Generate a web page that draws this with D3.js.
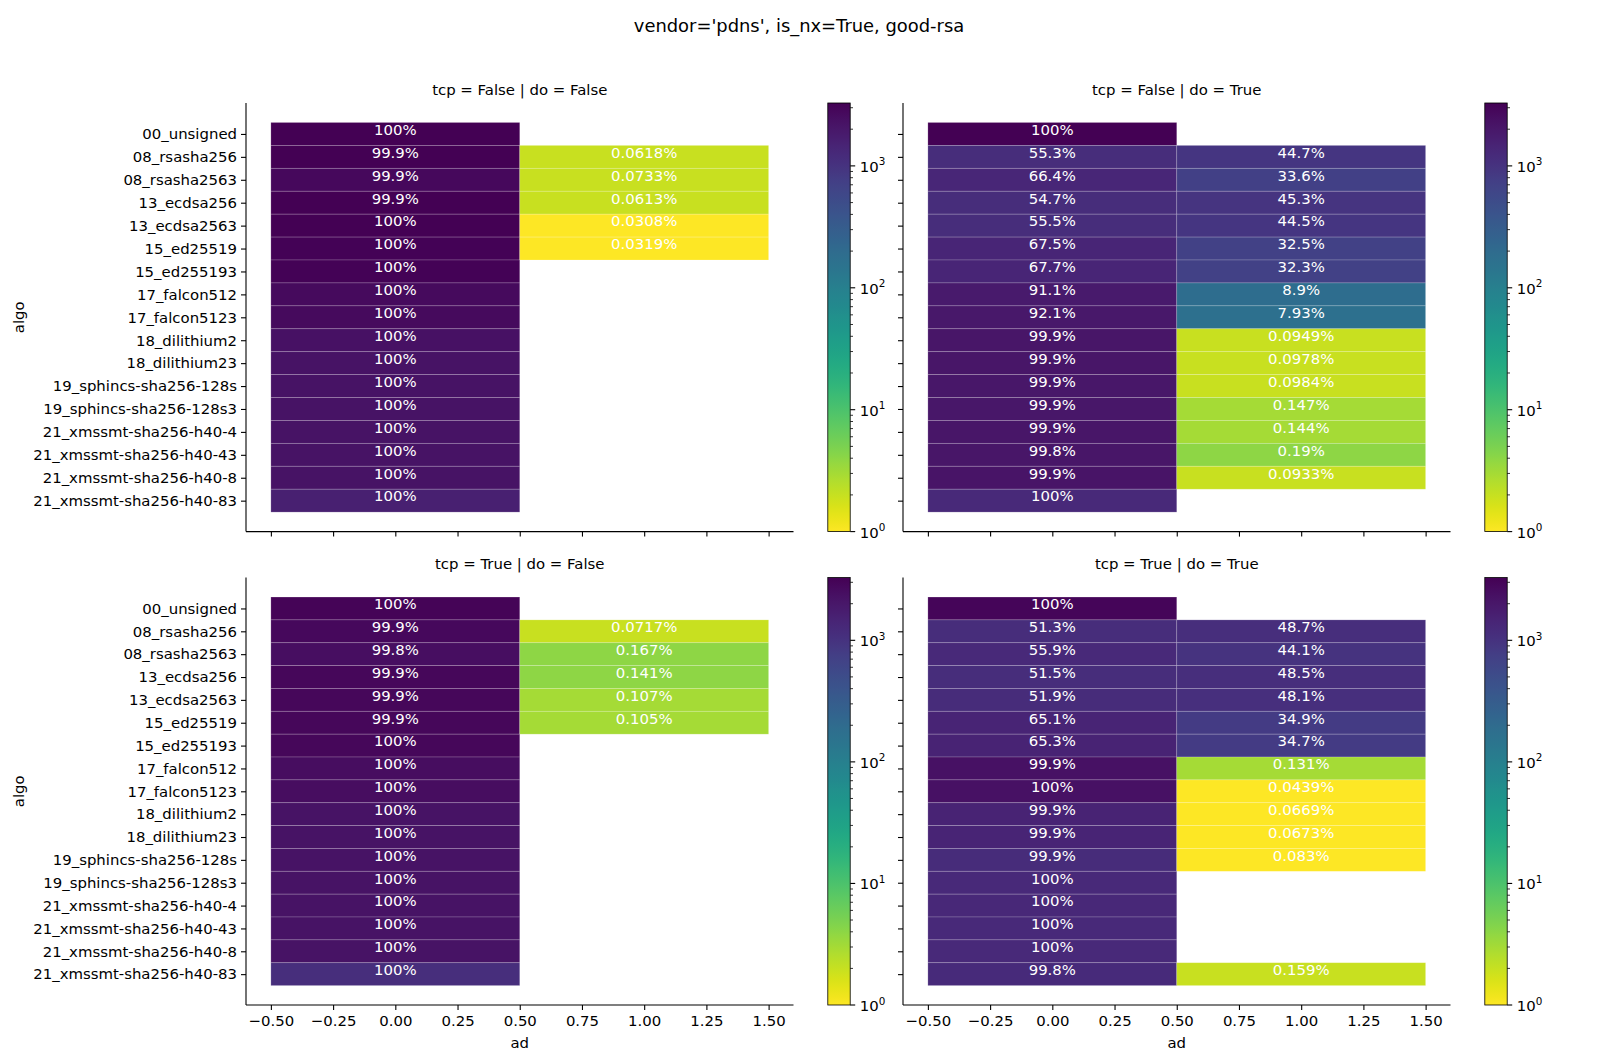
<!DOCTYPE html>
<html>
<head>
<meta charset="utf-8">
<script src="https://cdn.jsdelivr.net/npm/d3@7"></script>
<style>
  html, body { margin: 0; padding: 0; background: #fff; }
  svg { display: block; font-family: "DejaVu Sans", sans-serif; }
</style>
</head>
<body>
<svg id="chart" width="1600" height="1062"></svg>
<script>
// ---------------- DATA ----------------
const suptitle = "vendor='pdns', is_nx=True, good-rsa";
const algos = [
  "00_unsigned", "08_rsasha256", "08_rsasha2563", "13_ecdsa256", "13_ecdsa2563",
  "15_ed25519", "15_ed255193", "17_falcon512", "17_falcon5123", "18_dilithium2",
  "18_dilithium23", "19_sphincs-sha256-128s", "19_sphincs-sha256-128s3",
  "21_xmssmt-sha256-h40-4", "21_xmssmt-sha256-h40-43", "21_xmssmt-sha256-h40-8",
  "21_xmssmt-sha256-h40-83"
];
const adValues = [0, 1];
const panelTitles = [
  "tcp = False | do = False", "tcp = False | do = True",
  "tcp = True | do = False", "tcp = True | do = True"
];
// counts (ad = 0 / ad = 1) per algo, estimated from the colour scale
const tcpF_doF_ad0 = [3280, 3234, 2726, 3261, 3246, 3134, 3150, 2700, 2690, 2250, 2230, 2200, 2210, 2240, 2220, 2200, 1600];
const tcpF_doF_ad1 = [null, 2, 2, 2, 1, 1, null, null, null, null, null, null, null, null, null, null, null];
const tcpF_doT_ad0 = [3200, 1167, 1388, 1160, 1165, 1404, 1415, 1913, 1951, 2105, 2043, 2031, 2038, 2080, 2101, 2142, 1300];
const tcpF_doT_ad1 = [null, 943, 702, 960, 935, 676, 675, 187, 168, 2, 2, 2, 3, 3, 4, 2, null];
const tcpT_doF_ad0 = [3000, 2787, 2391, 2833, 2801, 2854, 2850, 2500, 2480, 2200, 2190, 2180, 2200, 2210, 2190, 2200, 1150];
const tcpT_doF_ad1 = [null, 2, 4, 4, 3, 3, null, null, null, null, null, null, null, null, null, null, null];
const tcpT_doT_ad0 = [2900, 1180, 1280, 1190, 1194, 1484, 1495, 2287, 2277, 1494, 1485, 1204, 1300, 1320, 1310, 1290, 1256];
const tcpT_doT_ad1 = [null, 1120, 1010, 1120, 1106, 796, 795, 3, 1, 1, 1, 1, null, null, null, null, 2];
const xTicks = [-0.5, -0.25, 0, 0.25, 0.5, 0.75, 1, 1.25, 1.5];
const cbarMajorTicks = [1, 10, 100, 1000];
const colorMax = 3280;

// ---------------- LAYOUT ----------------
const svg = d3.select("#chart");
const FS = 14.9;
const colX = [[246, 793.5], [903, 1450.5]];
const rowY = [[103, 531.6], [577.6, 1005]];
const cbarX = [[827.8, 850.2], [1484.8, 1507.2]];

const panels = [
  { title: panelTitles[0], a0: tcpF_doF_ad0, a1: tcpF_doF_ad1, r: 0, c: 0 },
  { title: panelTitles[1], a0: tcpF_doT_ad0, a1: tcpF_doT_ad1, r: 0, c: 1 },
  { title: panelTitles[2], a0: tcpT_doF_ad0, a1: tcpT_doF_ad1, r: 1, c: 0 },
  { title: panelTitles[3], a0: tcpT_doT_ad0, a1: tcpT_doT_ad1, r: 1, c: 1 }
];

const color = d3.scaleSequentialLog(t => d3.interpolateViridis(1 - t)).domain([1, colorMax]);
const fmt = d3.format(".3~g");

svg.append("text")
  .attr("x", 799).attr("y", 31.5)
  .attr("text-anchor", "middle")
  .attr("font-size", 17.9)
  .text(suptitle);

// gradient for colorbars
const defs = svg.append("defs");
const grad = defs.append("linearGradient").attr("id", "cbgrad")
  .attr("x1", 0).attr("y1", 1).attr("x2", 0).attr("y2", 0);
d3.range(0, 1.0001, 0.02).forEach(t => {
  grad.append("stop").attr("offset", t).attr("stop-color", d3.interpolateViridis(1 - t));
});

panels.forEach(p => {
  const [x0, x1] = colX[p.c];
  const [y0, y1] = rowY[p.r];
  const x = d3.scaleLinear().domain([-0.6, 1.6]).range([x0, x1]);
  const y = d3.scaleLinear().domain([-1.35, 17.35]).range([y0, y1]);
  const g = svg.append("g");

  // cells
  const cells = [];
  algos.forEach((a, i) => {
    const tot = (p.a0[i] || 0) + (p.a1[i] || 0);
    [p.a0[i], p.a1[i]].forEach((v, j) => {
      if (v != null) cells.push({ i, ad: adValues[j], v, pct: v / tot * 100 });
    });
  });
  g.selectAll("rect.cell").data(cells).join("rect")
    .attr("class", "cell")
    .attr("x", d => x(d.ad - 0.5))
    .attr("width", d => x(d.ad + 0.5) - x(d.ad - 0.5))
    .attr("y", d => y(d.i - 0.5))
    .attr("height", d => y(d.i + 0.5) - y(d.i - 0.5))
    .attr("fill", d => color(d.v))
    .attr("stroke", "rgba(255,255,255,0.22)")
    .attr("stroke-width", 0.8);
  g.selectAll("text.pct").data(cells).join("text")
    .attr("class", "pct")
    .attr("x", d => x(d.ad))
    .attr("y", d => y(d.i) + 0.8)
    .attr("text-anchor", "middle")
    .attr("font-size", FS)
    .attr("fill", "#ffffff")
    .text(d => fmt(d.pct) + "%");

  // axes
  const xAxis = d3.axisBottom(x).tickValues(xTicks).tickSize(5).tickPadding(5.5)
    .tickFormat(p.r === 1 ? (d => d3.format(".2f")(d).replace("-", "\u2212")) : () => "");
  const ga = g.append("g").attr("transform", `translate(0,${y1})`).call(xAxis);
  ga.select(".domain").remove();
  ga.append("line").attr("x1", x0).attr("x2", x1).attr("stroke", "#000").attr("stroke-width", 1.1);
  ga.selectAll(".tick line").attr("stroke-width", 1.1);
  ga.selectAll(".tick text").attr("font-size", FS).attr("font-family", "DejaVu Sans").attr("fill", "#000");

  const yAxis = d3.axisLeft(y).tickValues(d3.range(algos.length)).tickSize(5).tickPadding(4)
    .tickFormat(p.c === 0 ? (d => algos[d]) : () => "");
  const gy = g.append("g").attr("transform", `translate(${x0},0)`).call(yAxis);
  gy.select(".domain").remove();
  gy.append("line").attr("y1", y0).attr("y2", y1).attr("stroke", "#000").attr("stroke-width", 1.1);
  gy.selectAll(".tick line").attr("stroke-width", 1.1);
  gy.selectAll(".tick text").attr("font-size", FS).attr("font-family", "DejaVu Sans").attr("fill", "#000");

  // title
  g.append("text").attr("x", (x0 + x1) / 2).attr("y", y0 - 8.5)
    .attr("text-anchor", "middle").attr("font-size", FS).text(p.title);

  if (p.r === 1) {
    g.append("text").attr("x", (x0 + x1) / 2).attr("y", 1048)
      .attr("text-anchor", "middle").attr("font-size", FS).text("ad");
  }
  if (p.c === 0) {
    const cy = (y0 + y1) / 2;
    g.append("text").attr("transform", `translate(23.5,${cy}) rotate(-90)`)
      .attr("text-anchor", "middle").attr("font-size", FS).text("algo");
  }

  // colorbar
  const [cx0, cx1] = cbarX[p.c];
  const cs = d3.scaleLog().domain([1, colorMax]).range([y1, y0]);
  g.append("rect").attr("x", cx0).attr("y", y0).attr("width", cx1 - cx0).attr("height", y1 - y0)
    .attr("fill", "url(#cbgrad)");
  g.append("rect").attr("x", cx0).attr("y", y0).attr("width", cx1 - cx0).attr("height", y1 - y0)
    .attr("fill", "none").attr("stroke", "#000").attr("stroke-width", 0.8);
  const minor = [];
  [1, 10, 100, 1000].forEach(b => d3.range(2, 10).forEach(m => { if (b * m <= colorMax) minor.push(b * m); }));
  g.selectAll("line.cbminor").data(minor).join("line").attr("class", "cbminor")
    .attr("x1", cx1).attr("x2", cx1 + 2.8)
    .attr("y1", d => cs(d)).attr("y2", d => cs(d))
    .attr("stroke", "#000").attr("stroke-width", 0.8);
  g.selectAll("line.cbmajor").data(cbarMajorTicks).join("line").attr("class", "cbmajor")
    .attr("x1", cx1).attr("x2", cx1 + 5)
    .attr("y1", d => cs(d)).attr("y2", d => cs(d))
    .attr("stroke", "#000").attr("stroke-width", 1.1);
  const lab = g.selectAll("text.cblab").data(cbarMajorTicks).join("text").attr("class", "cblab")
    .attr("x", cx1 + 9.5).attr("y", d => cs(d) + 6).attr("font-size", FS);
  lab.append("tspan").text("10");
  lab.append("tspan").attr("dy", -6.5).attr("font-size", 10.4).text(d => Math.round(Math.log10(d)));
});
</script>
</body>
</html>
